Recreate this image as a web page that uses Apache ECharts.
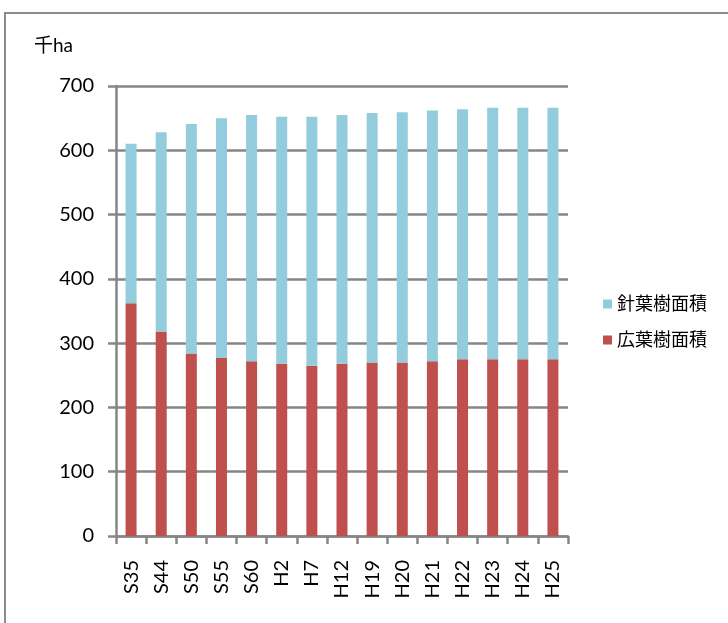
<!DOCTYPE html>
<html>
<head>
<meta charset="utf-8">
<script src="https://cdn.jsdelivr.net/npm/echarts@6/dist/echarts.min.js"></script>
<style>html,body{margin:0;padding:0;background:#fff;}#c{width:728px;height:623px;}</style>
</head>
<body>
<div id="c"></div>
<script>
const categories = ['S35','S44','S50','S55','S60','H2','H7','H12','H19','H20','H21','H22','H23','H24','H25'];
const broadleaf = [362,318,284,277,272,268,265,268,270,270,272,275,275,275,275];
const conifer = [248,310,357,373,383,384,387,387,388,389,390,389,391,391,391];
const yTicks = [0,100,200,300,400,500,600,700];
const unitLabel = '千ha';
const FONT = 'Lato, "Noto Sans CJK JP", sans-serif';
const chart = echarts.init(document.getElementById('c'));
chart.setOption({
  animation: false,
  textStyle: {fontFamily: FONT},
  graphic: [{type:'rect', shape:{x:5,y:13,width:740,height:640}, style:{fill:'none', stroke:'#8c8c8c', lineWidth:2}}],
  title: {text: unitLabel, left: 34, top: 36, padding: 0, textStyle: {fontSize: 19, fontWeight: 'normal', color: '#000', fontFamily: FONT}},
  legend: {
    data: ['針葉樹面積','広葉樹面積'], orient: 'vertical', left: 603, top: 295, padding: 0,
    itemWidth: 9, itemHeight: 9, itemGap: 18, icon: 'rect',
    textStyle: {fontSize: 18, color: '#000', fontFamily: FONT}
  },
  grid: {left: 116, right: 160, top: 86, bottom: 87},
  xAxis: {
    type: 'category', data: categories,
    axisLine: {lineStyle: {color: '#868686', width: 2.5}},
    axisTick: {show: true, length: 8, lineStyle: {color: '#868686', width: 2.5}},
    axisLabel: {rotate: 90, margin: 24, fontSize: 20, color: '#000', interval: 0, fontFamily: FONT}
  },
  yAxis: {
    type: 'value', min: yTicks[0], max: yTicks[yTicks.length-1], interval: 100,
    axisLine: {show: true, lineStyle: {color: '#868686', width: 2.5}},
    axisTick: {show: true, length: 8, lineStyle: {color: '#868686', width: 2.5}},
    splitLine: {lineStyle: {color: '#868686', width: 2.5}},
    axisLabel: {margin: 22, fontSize: 20, color: '#000', fontFamily: FONT}
  },
  series: [
    {name: '広葉樹面積', type: 'bar', stack: 'a', data: broadleaf, barWidth: 11, itemStyle: {color: '#C0504D'}},
    {name: '針葉樹面積', type: 'bar', stack: 'a', data: conifer, barWidth: 11, itemStyle: {color: '#93CDDD'}}
  ]
});
</script>
</body>
</html>
